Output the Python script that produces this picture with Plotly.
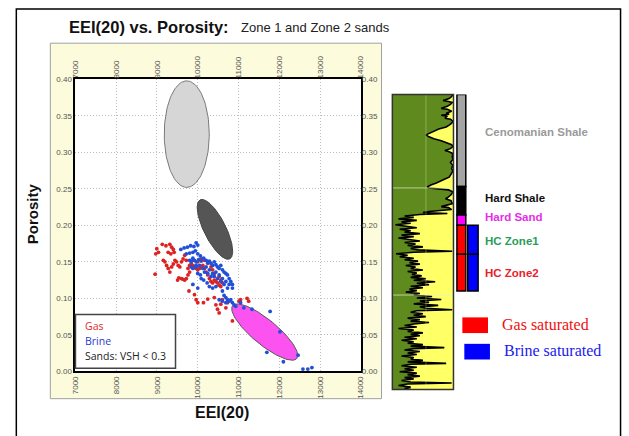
import numpy as np
import plotly.graph_objects as go

W, H = 629, 436

# ---------------- crossplot data: EEI(20) vs porosity ----------------
gas_points = [
    (8995, 0.168), (9035, 0.163), (8970, 0.161), (8955, 0.133), (9130, 0.174),
    (9220, 0.172), (9315, 0.174), (9360, 0.170), (9400, 0.167), (9275, 0.163),
    (9340, 0.161), (9420, 0.163), (9155, 0.152), (9195, 0.150), (9235, 0.145),
    (9275, 0.141), (9315, 0.136), (9360, 0.143), (9400, 0.147), (9440, 0.152),
    (9480, 0.150), (9520, 0.145), (9505, 0.125), (9535, 0.128), (9600, 0.127),
    (9640, 0.126), (9680, 0.125), (9720, 0.127), (9760, 0.132), (9800, 0.136),
    (9760, 0.141), (9800, 0.145), (9840, 0.147), (9880, 0.145), (9920, 0.143),
    (9960, 0.141), (10000, 0.139), (10045, 0.141), (10085, 0.143), (10125, 0.145),
    (10165, 0.141), (10205, 0.136), (10245, 0.132), (10285, 0.127), (10325, 0.123),
    (10365, 0.121), (10405, 0.125), (10445, 0.123), (10485, 0.121), (10525, 0.118),
    (10565, 0.116), (10605, 0.121), (10565, 0.125), (10525, 0.130), (9785, 0.110),
    (9920, 0.105), (9960, 0.098), (10000, 0.094), (10140, 0.094), (10245, 0.099),
    (10405, 0.101), (10445, 0.091), (10485, 0.085), (10565, 0.092), (10525, 0.080),
    (10605, 0.098), (10690, 0.087), (10730, 0.094), (10850, 0.069), (11010, 0.096),
    (11050, 0.098), (11210, 0.100), (11250, 0.096), (9680, 0.159), (9640, 0.154),
    (9600, 0.150), (9560, 0.143), (9720, 0.152), (9880, 0.152), (10000, 0.150),
    (10085, 0.154), (10165, 0.152), (10245, 0.148), (10325, 0.143), (10365, 0.139),
    (10405, 0.134),
]

brine_points = [
    (9585, 0.167), (9665, 0.169), (9745, 0.170), (9825, 0.172), (9905, 0.171),
    (9960, 0.176), (10000, 0.173), (9940, 0.165), (9880, 0.163), (9800, 0.162),
    (9720, 0.161), (10000, 0.161), (10065, 0.158), (9880, 0.155), (9800, 0.152),
    (9840, 0.150), (9920, 0.152), (9960, 0.150), (10020, 0.153), (10085, 0.151),
    (10145, 0.155), (10205, 0.152), (10245, 0.149), (10285, 0.151), (10325, 0.148),
    (10365, 0.145), (10405, 0.150), (10445, 0.146), (10485, 0.143), (10525, 0.141),
    (10565, 0.145), (10605, 0.139), (10645, 0.136), (10690, 0.134), (10730, 0.132),
    (10770, 0.127), (10810, 0.123), (10850, 0.119), (10850, 0.114), (10770, 0.119),
    (10690, 0.123), (10605, 0.127), (10525, 0.132), (10445, 0.136), (10365, 0.134),
    (10285, 0.139), (10205, 0.143), (10125, 0.141), (10045, 0.145), (9960, 0.143),
    (9880, 0.141), (9840, 0.143), (10165, 0.136), (10245, 0.134), (10325, 0.130),
    (10405, 0.130), (10485, 0.127), (10565, 0.123), (10645, 0.119), (10730, 0.114),
    (10065, 0.132), (10145, 0.125), (10230, 0.121), (10285, 0.116), (10365, 0.114),
    (10445, 0.116), (10605, 0.110), (10645, 0.104), (10690, 0.101), (10730, 0.098),
    (10770, 0.096), (10810, 0.098), (10850, 0.094), (10890, 0.091), (10930, 0.089),
    (10690, 0.094), (10605, 0.096), (10525, 0.098), (10000, 0.114), (9880, 0.119),
    (11050, 0.094), (11130, 0.087), (9960, 0.145), (10000, 0.134), (10085, 0.127),
    (11330, 0.085), (11775, 0.082), (12015, 0.054), (11695, 0.026), (12100, 0.013),
    (12460, 0.022), (12580, 0.003), (12700, 0.003), (12800, 0.005),
]

# lithology clusters: two tips of the long axis and minor/major ratio
ellipses = [
    ((9730, 0.398), (9730, 0.252), 0.42, "#d6d6d6", "#7a7a7a"),   # Cenomanian shale
    ((10059, 0.235), (10784, 0.154), 0.33, "#555555", "#444444"),  # hard shale
    ((10857, 0.090), (12429, 0.0174), 0.30, "#fb52f0", "#555555"),  # hard sand
]

x_ticks = [7000, 8000, 9000, 10000, 11000, 12000, 13000, 14000]
y_ticks = [0.00, 0.05, 0.10, 0.15, 0.20, 0.25, 0.30, 0.35, 0.40]
X_RANGE = [7000, 14000]
Y_RANGE = [0.0, 0.40]

# ---------------- well log: shale volume curve vs depth ----------------
vsh_log = [
    (0, 0.99), (2, 0.97), (4, 0.93), (5, 0.86), (6, 0.83), (7, 0.92), (8, 0.98),
    (10, 0.95), (12, 0.90), (13, 0.85), (14, 0.80), (15, 0.90), (17, 0.97),
    (19, 0.88), (20, 0.93), (21, 0.80), (22, 0.90), (24, 0.86), (25, 0.95),
    (27, 0.99), (29, 0.97), (31, 0.93), (33, 0.88), (35, 0.76), (37, 0.68),
    (39, 0.60), (41, 0.55), (43, 0.60), (45, 0.68), (47, 0.80), (49, 0.90),
    (51, 0.97), (53, 0.99), (55, 0.95), (57, 0.86), (58, 0.92), (60, 0.99),
    (63, 0.98), (66, 0.99), (69, 0.95), (72, 0.99), (75, 0.97), (78, 0.99),
    (81, 0.96), (84, 0.93), (86, 0.86), (88, 0.80), (90, 0.72), (92, 0.63),
    (94, 0.57), (95, 0.60), (96, 0.75), (97, 0.92), (99, 0.99), (102, 0.96),
    (105, 0.90), (106, 0.87), (108, 0.96), (111, 0.98), (113, 0.86), (114, 0.80),
    (115, 0.92), (117, 0.97), (119, 0.60), (120, 0.50), (121, 0.90),
    (122, 0.45), (123.5, 0.20), (125, 0.35), (126.5, 0.10), (128, 0.40),
    (129.5, 0.15), (131, 0.30), (132.5, 0.05), (134, 0.25), (135.5, 0.40),
    (137, 0.12), (138.5, 0.30), (140, 0.20), (141.5, 0.45), (143, 0.15),
    (144.5, 0.35), (146, 0.10), (147.5, 0.30), (149, 0.45), (150.5, 0.20),
    (152, 0.38), (153.5, 0.25), (155, 0.50), (156.5, 0.30), (158, 0.42),
    (159.5, 0.98), (160.5, 0.35), (162, 0.06), (163.5, 0.25), (165, 0.12),
    (166.5, 0.35), (168, 0.20), (169.5, 0.42), (171, 0.28), (172.5, 0.45),
    (174, 0.22), (175.5, 0.38), (177, 0.30), (178.5, 0.50), (180, 0.25),
    (181.5, 0.40), (183, 0.32), (184.5, 0.48), (186, 0.30), (187.5, 0.55),
    (189, 0.35), (190.5, 0.70), (192, 0.40), (193.5, 0.60), (195, 0.30),
    (196.5, 0.50), (198, 0.28), (199.5, 0.40), (201, 0.22), (202.5, 0.45),
    (204, 0.35), (205.5, 0.65), (207, 0.40), (208.5, 0.80), (210, 0.45),
    (211.5, 0.60), (213, 0.35), (214.5, 0.75), (216, 0.45), (217.5, 0.55),
    (219, 0.98), (220, 0.40), (221.5, 0.30), (223, 0.50), (224.5, 0.35),
    (226, 0.55), (227.5, 0.25), (229, 0.45), (230.5, 0.30), (232, 0.60),
    (233.5, 0.35), (235, 0.20), (236.5, 0.40), (238, 0.10), (239.5, 0.35),
    (241, 0.25), (242.5, 0.50), (244, 0.30), (245.5, 0.45), (247, 0.20),
    (248.5, 0.40), (250, 0.15), (251.5, 0.35), (253, 0.25), (254.5, 0.50),
    (256, 0.30), (257.5, 0.85), (258.5, 0.35), (260, 0.20), (261.5, 0.45),
    (263, 0.25), (264.5, 0.40), (266, 0.15), (267.5, 0.35), (269, 0.30),
    (270.5, 0.50), (272, 0.25), (273.5, 0.88), (274.5, 0.30), (276, 0.15),
    (277.5, 0.40), (279, 0.20), (280.5, 0.35), (282, 0.12), (283.5, 0.40),
    (285, 0.25), (286.5, 0.45), (288, 0.20), (289.5, 0.35), (291, 0.15),
    (292.5, 0.30), (293.5, 0.97), (294.5, 0.25), (296, 0.10), (297.5, 0.30),
    (299, 0.20), (300, 0.30),
]
LOG_DEPTH_RANGE = [300, 0]

zone_names = ["Cenomanian Shale", "Hard Shale", "Hard Sand", "HC Zone1", "HC Zone2"]
zone_tops = [0, 93.5, 122.5, 133, 162.5]
zone_bases = [93.5, 122.5, 133, 162.5, 200]
zone_fill = ["#a4a4a4", "#000000", "#ff00ff", "#ff0000", "#ff0000"]
zone_text_color = ["#9a9a9a", "#111111", "#e62ee6", "#2a9d5c", "#e8212b"]
brine_zones = ["HC Zone1", "HC Zone2"]

# ---------------- geometry helpers (pixel -> paper) ----------------
def px(x):
    return x / W


def py(y):
    return 1 - y / H


PLOT_L, PLOT_R, PLOT_T, PLOT_B = 72.5, 362, 77, 375
TRACK_L, TRACK_R, TRACK_T, TRACK_B = 394, 456, 92.5, 393.5

sx = (PLOT_R - PLOT_L) / (X_RANGE[1] - X_RANGE[0])
sy = (PLOT_B - PLOT_T) / (Y_RANGE[1] - Y_RANGE[0])


def ellipse_outline(tip_a, tip_b, ratio, n=120):
    ax, ay = tip_a[0] * sx, tip_a[1] * sy
    bx, by = tip_b[0] * sx, tip_b[1] * sy
    cx, cy = (ax + bx) / 2, (ay + by) / 2
    half = np.hypot(bx - ax, by - ay) / 2
    ux, uy = (bx - ax) / (2 * half), (by - ay) / (2 * half)
    vx, vy = -uy, ux
    t = np.linspace(0, 2 * np.pi, n)
    xs = cx + half * np.cos(t) * ux + ratio * half * np.sin(t) * vx
    ys = cy + half * np.cos(t) * uy + ratio * half * np.sin(t) * vy
    return xs / sx, ys / sy


fig = go.Figure()

for tip_a, tip_b, ratio, fill, edge in ellipses:
    ex, ey = ellipse_outline(tip_a, tip_b, ratio)
    fig.add_trace(go.Scatter(
        x=ex, y=ey, mode="lines", fill="toself", fillcolor=fill,
        line=dict(color=edge, width=1), hoverinfo="skip", xaxis="x", yaxis="y"))

gas_x, gas_y = zip(*gas_points)
brine_x, brine_y = zip(*brine_points)
fig.add_trace(go.Scatter(
    x=gas_x, y=gas_y, mode="markers", name="Gas",
    marker=dict(color="#dd2222", size=3.8), cliponaxis=False))
fig.add_trace(go.Scatter(
    x=brine_x, y=brine_y, mode="markers", name="Brine",
    marker=dict(color="#2150d8", size=3.8), cliponaxis=False))

# carrier for the mirrored top / right tick labels
fig.add_trace(go.Scatter(
    x=[X_RANGE[0]], y=[Y_RANGE[0]], xaxis="x2", yaxis="y2", mode="markers",
    marker=dict(opacity=0), hoverinfo="skip"))

log_depth, log_vsh = zip(*vsh_log)
fig.add_trace(go.Scatter(
    x=log_vsh, y=log_depth, xaxis="x3", yaxis="y3", mode="lines",
    line=dict(color="black", width=1.6), fill="tozerox", fillcolor="#5e8a1e",
    hoverinfo="skip"))

tick_font = dict(family="Liberation Sans, Arial", size=8, color="#555555")
common_x = dict(range=X_RANGE, tickvals=x_ticks, ticktext=[str(v) for v in x_ticks],
                tickangle=-90, tickfont=tick_font, zeroline=False, ticks="",
                fixedrange=True)
common_y = dict(range=Y_RANGE, tickvals=y_ticks, ticktext=[f"{v:.2f}" for v in y_ticks],
                tickfont=tick_font, zeroline=False, ticks="", fixedrange=True)

shapes = [
    # outer frame
    dict(type="rect", xref="paper", yref="paper", x0=px(12.5), x1=px(625.5),
         y0=-0.2, y1=py(5), line=dict(color="black", width=1.5), layer="below"),
    # pale panel behind the crossplot
    dict(type="rect", xref="paper", yref="paper", x0=px(47), x1=px(383),
         y0=py(403), y1=py(40), fillcolor="#fcfbdc",
         line=dict(color="#a0a0a0", width=1), layer="below"),
    # white plotting area
    dict(type="rect", xref="paper", yref="paper", x0=px(PLOT_L), x1=px(PLOT_R),
         y0=py(PLOT_B), y1=py(PLOT_T), fillcolor="white", line=dict(width=0),
         layer="below"),
    # sand colour behind the log curve
    dict(type="rect", xref="x3", yref="y3", x0=0, x1=1, y0=0, y1=300,
         fillcolor="#ffff66", line=dict(width=0), layer="below"),
    # faint track grid
    dict(type="line", xref="x3", yref="y3", x0=0.55, x1=0.55, y0=0, y1=300,
         line=dict(color="rgba(255,255,210,0.3)", width=1)),
    dict(type="line", xref="x3", yref="y3", x0=0, x1=1, y0=95, y1=95,
         line=dict(color="rgba(235,235,200,0.7)", width=1)),
    dict(type="line", xref="x3", yref="y3", x0=0, x1=1, y0=204, y1=204,
         line=dict(color="rgba(235,235,200,0.7)", width=1)),
    # track frame
    dict(type="rect", xref="paper", yref="paper", x0=px(TRACK_L), x1=px(TRACK_R),
         y0=py(TRACK_B), y1=py(TRACK_T), line=dict(color="#333333", width=1.5)),
    # legend box inside the crossplot
    dict(type="rect", xref="paper", yref="paper", x0=px(PLOT_L), x1=px(174),
         y0=py(372), y1=py(317), fillcolor="white",
         line=dict(color="#444444", width=1.5)),
    # fluid swatches
    dict(type="rect", xref="paper", yref="paper", x0=px(465), x1=px(491),
         y0=py(336), y1=py(320), fillcolor="#ff0000", line=dict(width=0)),
    dict(type="rect", xref="paper", yref="paper", x0=px(467), x1=px(493),
         y0=py(363), y1=py(347), fillcolor="#0000ff", line=dict(width=0)),
]

# zone column (and brine column for the hydrocarbon zones)
for name, top, base, fill in zip(zone_names, zone_tops, zone_bases, zone_fill):
    shapes.append(dict(type="rect", xref="paper", yref="y3", x0=px(459.5), x1=px(468.5),
                       y0=top, y1=base, fillcolor=fill,
                       line=dict(color="black", width=1.5)))
    if name in brine_zones:
        shapes.append(dict(type="rect", xref="paper", yref="y3", x0=px(470.5), x1=px(481),
                           y0=top, y1=base, fillcolor="#0000ff",
                           line=dict(color="black", width=1.5)))

label_depths = [38.5, 105, 124.5, 148.5, 181.5]
annotations = [
    dict(text="<b>EEI(20) vs. Porosity:</b>", x=px(64), y=py(23), xref="paper", yref="paper",
         xanchor="left", yanchor="middle", showarrow=False,
         font=dict(family="Liberation Sans, Arial", size=16.5, color="#111111")),
    dict(text="Zone 1 and Zone 2 sands", x=px(238), y=py(24), xref="paper", yref="paper",
         xanchor="left", yanchor="middle", showarrow=False,
         font=dict(family="Liberation Sans, Arial", size=13, color="#222222")),
    dict(text="<b>Porosity</b>", x=px(29), y=py(214), xref="paper", yref="paper",
         textangle=-90, xanchor="center", yanchor="middle", showarrow=False,
         font=dict(family="Liberation Sans, Arial", size=15, color="#111111")),
    dict(text="<b>EEI(20)</b>", x=px(221), y=py(417), xref="paper", yref="paper",
         xanchor="center", yanchor="middle", showarrow=False,
         font=dict(family="Liberation Sans, Arial", size=16, color="#111111")),
    dict(text="Gas", x=px(80), y=py(329), xref="paper", yref="paper",
         xanchor="left", yanchor="middle", showarrow=False,
         font=dict(family="Open Sans", size=10.5, color="#e02a2a")),
    dict(text="Brine", x=px(80), y=py(344), xref="paper", yref="paper",
         xanchor="left", yanchor="middle", showarrow=False,
         font=dict(family="Open Sans", size=10.5, color="#2a3ad0")),
    dict(text="Sands: VSH &lt; 0.3", x=px(80), y=py(359), xref="paper", yref="paper",
         xanchor="left", yanchor="middle", showarrow=False,
         font=dict(family="Open Sans", size=10.5, color="#222222")),
    dict(text="Gas saturated", x=px(503), y=py(327), xref="paper", yref="paper",
         xanchor="left", yanchor="middle", showarrow=False,
         font=dict(family="Liberation Serif, Times New Roman", size=16, color="#ee1111")),
    dict(text="Brine saturated", x=px(505), y=py(354), xref="paper", yref="paper",
         xanchor="left", yanchor="middle", showarrow=False,
         font=dict(family="Liberation Serif, Times New Roman", size=16, color="#1a1aee")),
]
for name, depth, color in zip(zone_names, label_depths, zone_text_color):
    annotations.append(dict(text=f"<b>{name}</b>", x=px(486), y=depth, xref="paper", yref="y3",
                            xanchor="left", yanchor="middle", showarrow=False,
                            font=dict(family="Liberation Sans, Arial", size=11.5, color=color)))

grid_style = dict(showgrid=True, gridcolor="#bdbdbd", griddash="1px,2px", gridwidth=1)

fig.update_layout(
    width=W, height=H, margin=dict(l=0, r=0, t=0, b=0),
    paper_bgcolor="white", plot_bgcolor="rgba(0,0,0,0)", showlegend=False,
    xaxis=dict(domain=[px(PLOT_L), px(PLOT_R)], anchor="y", side="bottom",
               showline=True, linecolor="black", linewidth=2, mirror=True,
               **grid_style, **common_x),
    yaxis=dict(domain=[py(PLOT_B), py(PLOT_T)], anchor="x", side="left",
               showline=True, linecolor="black", linewidth=2, mirror=True,
               **grid_style, **common_y),
    xaxis2=dict(overlaying="x", anchor="y", side="top", showgrid=False,
                showline=False, **common_x),
    yaxis2=dict(overlaying="y", anchor="x", side="right", showgrid=False,
                showline=False, **common_y),
    xaxis3=dict(domain=[px(TRACK_L), px(TRACK_R)], anchor="y3", range=[0, 1],
                visible=False, fixedrange=True),
    yaxis3=dict(domain=[py(TRACK_B), py(TRACK_T)], anchor="x3", range=LOG_DEPTH_RANGE,
                visible=False, fixedrange=True),
    shapes=shapes,
    annotations=annotations,
)

fig.write_html("out.html")
